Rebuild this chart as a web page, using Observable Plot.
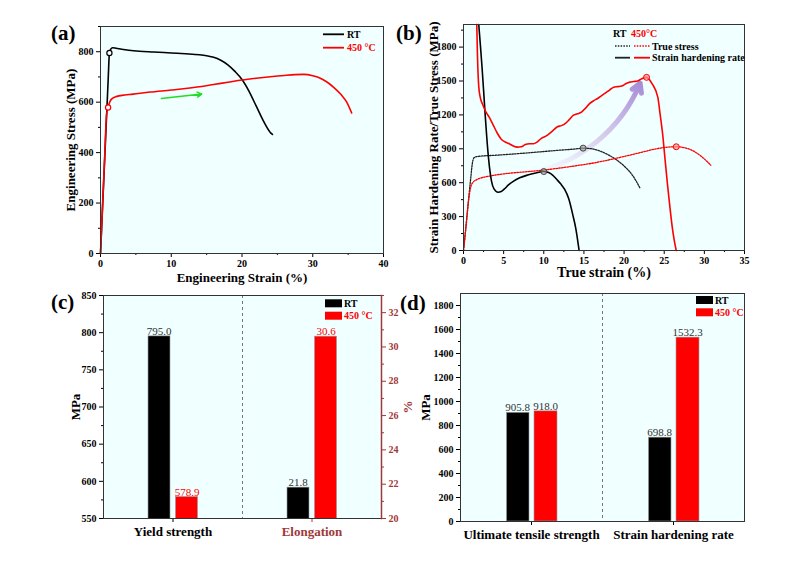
<!DOCTYPE html>
<html><head><meta charset="utf-8">
<script src="https://cdn.jsdelivr.net/npm/d3@7"></script>
<script src="https://cdn.jsdelivr.net/npm/@observablehq/plot@0.6"></script>
<style>
body{margin:0;background:#fff;}
#root{position:relative;width:800px;height:572px;overflow:hidden;background:#fff;font-family:"Liberation Serif","Times New Roman",serif;}
.panel{position:absolute;}
#overlay{position:absolute;left:0;top:0;pointer-events:none;}
</style></head><body><div id="root"></div>
<script>
// ---------- DATA ----------
// (a) engineering stress-strain
const aStrainRT = [0,0.3,0.6,0.9,1.1,1.26,1.45,1.7,2.2,3.0,4.0,5.5,7.5,10,12,14,15,16,17,18,19,20,21,22,23,24,24.3];
const aStressRT = [0,190,380,570,700,795,810,816,814,810,806,802,799,795,792,788,784,778,766,748,722,690,643,585,527,480,472];
const aStrainHT = [0,0.3,0.6,0.85,1.07,1.3,1.6,2.0,3.0,4.6,7,10,12,14,16,18,20,22,24,26,27.5,28.7,30,31,32,33,34,34.8,35.5];
const aStressHT = [0,195,390,550,578.9,600,613,620,627,632,640,648,654,661,670,679,688,695,701,706,709,710,705,696,680,658,630,600,557];
const aYieldStrain = [1.26, 1.07];
const aYieldStress = [795.0, 578.9];
const aXTicks = [0,10,20,30,40], aXMinor = [5,15,25,35];
const aYTicks = [0,200,400,600,800], aYMinor = [100,300,500,700,900];
const aArrow = [{x1: 8.6, y1: 615, x2: 14.3, y2: 632}];

// (b) true stress & strain hardening rate
const bStrainTS_RT = [0,0.3,0.6,0.9,1.1,1.3,1.6,2,4,6,8,10,12,14,14.9,16,17,18,19,20,21,21.5,22];
const bTS_RT = [0,210,430,640,770,820,830,834,843,853,864,876,888,899,905.8,900,880,848,805,748,670,615,550];
const bStrainTS_HT = [0,0.3,0.6,0.9,1.2,1.6,2,3,4,5,6,8,10,12,14,16,18,20,22,24,25,26.5,27.5,28.5,29.5,30.3,30.8];
const bTS_HT = [0,200,420,560,605,625,638,655,668,678,686,698,712,730,750,772,800,832,866,900,912,918,910,885,840,790,755];
const bStrainSH_RT = [1.9,2.1,2.3,2.5,2.7,2.9,3.1,3.3,3.5,3.8,4.3,4.7,5.1,5.6,6.2,7.0,8.0,9.0,10.0,10.6,11.1,11.6,12.1,12.6,13.1,13.6,14.0,14.4];
const bSH_RT = [2000,1820,1630,1420,1200,1000,830,700,610,545,516,522,545,580,612,643,668,686,699,690,668,630,590,540,460,320,190,0];
const bStrainSH_HT = [1.65,1.75,1.9,2.1,2.4,2.8,3.2,3.7,4.2,4.7,5.2,5.7,6.2,6.7,7.2,7.7,8.2,8.7,9.2,9.7,10.2,10.7,11.2,11.7,12.2,12.7,13.2,13.7,14.2,14.7,15.2,15.7,16.2,16.7,17.2,17.7,18.2,18.7,19.2,19.7,20.2,20.7,21.2,21.7,22.2,22.8,23.5,24.2,24.5,24.8,25.1,25.4,25.7,26.0,26.3,26.5];
const bSH_HT = [2000,1700,1450,1350,1290,1225,1180,1110,1040,985,960,945,925,915,918,938,945,945,962,993,1010,1035,1065,1095,1105,1125,1160,1198,1210,1225,1260,1300,1325,1345,1370,1395,1420,1445,1450,1455,1475,1490,1495,1500,1520,1532.3,1475,1357,1200,1033,810,590,390,207,70,0];
const bMarkRT = [{x: 10.0, y: 698.8}, {x: 14.9, y: 905.8}];
const bMarkHT = [{x: 22.8, y: 1532.3}, {x: 26.5, y: 918.0}];
const bXTicks = [0,5,10,15,20,25,30,35], bXMinor = [2.5,7.5,12.5,17.5,22.5,27.5,32.5];
const bYTicks = [0,300,600,900,1200,1500,1800], bYMinor = [150,450,750,1050,1350,1650,1950];
const bArrow = [{x1: 8.5, y1: 690, x2: 22.0, y2: 1480}];

// (c) yield strength / elongation
const cCats = ["Yield strength", "Elongation"];
const cRT = [795.0, 21.8];
const cHT = [578.9, 30.6];
const cYTicks = [550,600,650,700,750,800,850], cYMinor = [575,625,675,725,775,825];
const cRTicks = [20,22,24,26,28,30,32], cRMinor = [21,23,25,27,29,31,33];

// (d) UTS / strain hardening rate
const dCats = ["Ultimate tensile strength", "Strain hardening rate"];
const dRT = [905.8, 698.8];
const dHT = [918.0, 1532.3];
const dYTicks = [0,200,400,600,800,1000,1200,1400,1600,1800], dYMinor = [100,300,500,700,900,1100,1300,1500,1700];

// ---------- HELPERS ----------
const FONT = "'Liberation Serif', 'Times New Roman', serif";
const BG = "#f0ffff";
const DARKRED = "#a03838";
const ST = {fontFamily: FONT, fontSize: "10px", fontWeight: "bold", background: "transparent", overflow: "visible", color: "black"};
const root = document.getElementById("root");
function mount(el, left, top, w, h) {
  const d = document.createElement("div");
  d.className = "panel";
  Object.assign(d.style, {left: left + "px", top: top + "px", width: w + "px", height: h + "px"});
  d.appendChild(el); root.appendChild(d);
}
const zipXY = (xs, ys) => xs.map((x, i) => ({x, y: ys[i]}));
const blank = () => "";
const plain = d => String(d);
function yAxes(major, minor, extra = {}, fmt = plain) {
  return [
    Plot.axisY(major, {tickSize: 4, tickPadding: 3, label: null, tickFormat: fmt, ...extra}),
    Plot.axisY(minor, {tickSize: 2, label: null, ...extra, tickFormat: blank})
  ];
}
function xAxes(major, minor) {
  return [
    Plot.axisX(major, {tickSize: 4, tickPadding: 2, label: null, tickFormat: plain}),
    Plot.axisX(minor, {tickSize: 2, tickFormat: blank, label: null})
  ];
}
const labelStyle = {fontSize: 13, fontWeight: "bold", fontFamily: FONT, fill: "black", textAnchor: "middle", lineAnchor: "middle"};

// ---------- (a) ----------
const aRT = zipXY(aStrainRT, aStressRT);
const aHT = zipXY(aStrainHT, aStressHT);
const aYield = aYieldStrain.map((x, i) => ({x, y: aYieldStress[i], c: i === 0 ? "black" : "red"}));
const plotA = Plot.plot({
  width: 400, height: 286, marginLeft: 100, marginRight: 17, marginTop: 26, marginBottom: 33,
  style: ST,
  x: {domain: [0, 40], label: null}, y: {domain: [0, 900], label: null},
  marks: [
    Plot.frame({fill: BG}),
    ...xAxes(aXTicks, aXMinor),
    ...yAxes(aYTicks, aYMinor),
    Plot.line(aRT, {x: "x", y: "y", stroke: "black", strokeWidth: 1.6, curve: "monotone-x"}),
    Plot.line(aHT, {x: "x", y: "y", stroke: "red", strokeWidth: 1.6, curve: "monotone-x"}),
    Plot.dot(aYield, {x: "x", y: "y", r: 2.6, stroke: d => d.c, fill: "white", strokeWidth: 1.2}),
    Plot.arrow(aArrow, {x1: "x1", y1: "y1", x2: "x2", y2: "y2", stroke: "#22dd22", strokeWidth: 1.5, headLength: 5}),
    Plot.text(["Engineering Stress (MPa)"], {text: d => d, frameAnchor: "left", dx: -30, rotate: -90, ...labelStyle}),
    Plot.text(["Engineering Strain (%)"], {text: d => d, frameAnchor: "bottom", dy: 24, ...labelStyle}),
    Plot.frame({stroke: "#333", strokeWidth: 1})
  ]
});
mount(plotA, 0, 0, 400, 286);

// ---------- (b) ----------
const gradMark = () => {
  const defs = d3.create("svg:defs");
  const g = defs.append("linearGradient").attr("id", "lavgrad")
    .attr("x1", 0).attr("y1", 1).attr("x2", 1).attr("y2", 0);
  g.append("stop").attr("offset", "0%").attr("stop-color", "#f4f0fb").attr("stop-opacity", 0.3);
  g.append("stop").attr("offset", "40%").attr("stop-color", "#ddd2f0").attr("stop-opacity", 0.8);
  g.append("stop").attr("offset", "100%").attr("stop-color", "#a68cd6").attr("stop-opacity", 1);
  return defs.node();
};
const plotB = Plot.plot({
  width: 400, height: 286, marginLeft: 63, marginRight: 56, marginTop: 24, marginBottom: 36,
  style: ST,
  x: {domain: [0, 35], label: null}, y: {domain: [0, 2000], label: null},
  marks: [
    gradMark,
    Plot.frame({fill: BG}),
    ...xAxes(bXTicks, bXMinor),
    ...yAxes(bYTicks, bYMinor),
    Plot.arrow(bArrow, {x1: "x1", y1: "y1", x2: "x2", y2: "y2", bend: -28, stroke: "url(#lavgrad)", strokeWidth: 5, headLength: 3, headAngle: 60}),
    Plot.line(zipXY(bStrainTS_RT, bTS_RT), {x: "x", y: "y", stroke: "#222", strokeWidth: 1.3, strokeDasharray: "1.5,1.3", curve: "monotone-x"}),
    Plot.line(zipXY(bStrainTS_HT, bTS_HT), {x: "x", y: "y", stroke: "red", strokeWidth: 1.3, strokeDasharray: "1.5,1.3", curve: "monotone-x"}),
    Plot.line(zipXY(bStrainSH_RT, bSH_RT), {x: "x", y: "y", stroke: "black", strokeWidth: 1.6, curve: "monotone-x"}),
    Plot.line(zipXY(bStrainSH_HT, bSH_HT), {x: "x", y: "y", stroke: "red", strokeWidth: 1.6, curve: "monotone-x"}),
    Plot.dot(bMarkRT, {x: "x", y: "y", r: 3, stroke: "#444", fill: "#999", fillOpacity: 0.6, strokeWidth: 1}),
    Plot.dot(bMarkHT, {x: "x", y: "y", r: 3, stroke: "red", fill: "#ff9999", fillOpacity: 0.7, strokeWidth: 1}),
    Plot.text(["Strain Hardening Rate/True Stress (MPa)"], {text: d => d, frameAnchor: "left", dx: -30, rotate: -90, ...labelStyle}),
    Plot.text(["True strain (%)"], {text: d => d, frameAnchor: "bottom", dy: 22, ...labelStyle, fontSize: 14}),
    Plot.frame({stroke: "#333", strokeWidth: 1})
  ]
});
mount(plotB, 400, 0, 400, 286);

// ---------- (c) ----------
const toLeft = v => 550 + (v - 20) * 300 / 13;
const fromLeft = v => 20 + (v - 550) * 13 / 300;
const cRTData = cCats.map((cat, i) => ({cat, v: i === 1 ? toLeft(cRT[i]) : cRT[i], label: cRT[i].toFixed(1)}));
const cHTData = cCats.map((cat, i) => ({cat, v: i === 1 ? toLeft(cHT[i]) : cHT[i], label: cHT[i].toFixed(1)}));
const cW = 400, cML = 103, cMR = 19;
const cBW = (cW - cML - cMR) / 2;
const plotC = Plot.plot({
  width: cW, height: 286, marginLeft: cML, marginRight: cMR, marginTop: 9, marginBottom: 54,
  style: ST,
  x: {type: "band", domain: cCats, padding: 0, label: null},
  y: {domain: [550, 850], label: null},
  marks: [
    Plot.frame({fill: BG}),
    Plot.ruleX([cCats[1]], {dx: -cBW / 2, stroke: "#777", strokeDasharray: "3,3", strokeWidth: 1}),
    Plot.barY(cRTData, {x: "cat", y: "v", fill: "black", stroke: "#999", strokeWidth: 0.6, insetLeft: 45, insetRight: 72, clip: true}),
    Plot.barY(cHTData, {x: "cat", y: "v", fill: "red", stroke: "#999", strokeWidth: 0.6, insetLeft: 72.5, insetRight: 44.5, clip: true}),
    Plot.text(cRTData, {x: "cat", y: "v", text: "label", dx: -14, dy: -1.5, lineAnchor: "bottom", fill: "#333", fontWeight: "normal", fontSize: 11}),
    Plot.text(cHTData, {x: "cat", y: "v", text: "label", dx: 14, dy: -1.5, lineAnchor: "bottom", fill: "red", fontWeight: "normal", fontSize: 11}),
    ...yAxes(cYTicks, cYMinor),
    ...yAxes(cRTicks.map(toLeft), cRMinor.map(toLeft), {anchor: "right", color: DARKRED}, d => String(Math.round(fromLeft(d)))),
    Plot.axisX([cCats[0]], {tickSize: 4, tickPadding: 4, fontSize: 13, label: null}),
    Plot.axisX([cCats[1]], {tickSize: 4, tickPadding: 4, fontSize: 13, label: null, color: DARKRED}),
    Plot.text(["MPa"], {text: d => d, frameAnchor: "left", dx: -28, rotate: -90, ...labelStyle}),
    Plot.text(["%"], {text: d => d, frameAnchor: "right", dx: 26, rotate: -90, ...labelStyle, fill: DARKRED}),
    Plot.frame({stroke: "#333", strokeWidth: 1}),
    Plot.frame({anchor: "right", stroke: DARKRED, strokeWidth: 1.5})
  ]
});
mount(plotC, 0, 286, cW, 286);

// ---------- (d) ----------
const dRTData = dCats.map((cat, i) => ({cat, v: dRT[i], label: dRT[i].toFixed(1)}));
const dHTData = dCats.map((cat, i) => ({cat, v: dHT[i], label: dHT[i].toFixed(1)}));
const dW = 400, dML = 60, dMR = 56;
const dBW = (dW - dML - dMR) / 2;
const plotD = Plot.plot({
  width: dW, height: 286, marginLeft: dML, marginRight: dMR, marginTop: 7, marginBottom: 51,
  style: ST,
  x: {type: "band", domain: dCats, padding: 0, label: null},
  y: {domain: [0, 1900], label: null},
  marks: [
    Plot.frame({fill: BG}),
    Plot.ruleX([dCats[1]], {dx: -dBW / 2, stroke: "#777", strokeDasharray: "3,3", strokeWidth: 1}),
    Plot.barY(dRTData, {x: "cat", y: "v", fill: "black", stroke: "#999", strokeWidth: 0.6, insetLeft: 46.5, insetRight: 73}),
    Plot.barY(dHTData, {x: "cat", y: "v", fill: "red", stroke: "#999", strokeWidth: 0.6, insetLeft: 74, insetRight: 45}),
    Plot.text(dRTData, {x: "cat", y: "v", text: "label", dx: -14, dy: -1.5, lineAnchor: "bottom", fill: "#333", fontWeight: "normal", fontSize: 11}),
    Plot.text(dHTData, {x: "cat", y: "v", text: "label", dx: 14, dy: -1.5, lineAnchor: "bottom", fill: "#333", fontWeight: "normal", fontSize: 11}),
    ...yAxes(dYTicks, dYMinor),
    Plot.axisX(dCats, {tickSize: 4, tickPadding: 4, fontSize: 13, label: null}),
    Plot.text(["MPa"], {text: d => d, frameAnchor: "left", dx: -35, rotate: -90, ...labelStyle}),
    Plot.frame({stroke: "#333", strokeWidth: 1})
  ]
});
mount(plotD, 400, 286, dW, 286);

// ---------- overlay: panel letters & legends ----------
const ov = document.createElementNS("http://www.w3.org/2000/svg", "svg");
ov.setAttribute("id", "overlay"); ov.setAttribute("width", 800); ov.setAttribute("height", 572);
ov.setAttribute("font-family", FONT); ov.setAttribute("font-weight", "bold");
ov.innerHTML = `
  <g font-size="21">
    <text x="51" y="40">(a)</text>
    <text x="396" y="40">(b)</text>
    <text x="51" y="309">(c)</text>
    <text x="400" y="310">(d)</text>
  </g>
  <g font-size="10">
    <line x1="323" x2="344" y1="34.3" y2="34.3" stroke="black" stroke-width="1.8"/>
    <text x="347" y="37.8">RT</text>
    <line x1="323" x2="344" y1="47.7" y2="47.7" stroke="red" stroke-width="1.8"/>
    <text x="347" y="51.2" fill="red">450 °C</text>

    <text x="613" y="36.8">RT</text>
    <text x="631" y="36.8" fill="red">450°C</text>
    <line x1="615" x2="630" y1="46" y2="46" stroke="#222" stroke-width="1.3" stroke-dasharray="1.5,1.3"/>
    <line x1="634" x2="650" y1="46" y2="46" stroke="red" stroke-width="1.3" stroke-dasharray="1.5,1.3"/>
    <text x="652" y="49.5">True stress</text>
    <line x1="615" x2="630" y1="57.7" y2="57.7" stroke="#222" stroke-width="1.8"/>
    <line x1="634" x2="650" y1="57.7" y2="57.7" stroke="red" stroke-width="1.8"/>
    <text x="652" y="61.2">Strain hardening rate</text>

    <rect x="325" y="299.3" width="17" height="8" fill="black"/>
    <text x="344" y="306.8">RT</text>
    <rect x="325" y="311.7" width="17" height="8" fill="red"/>
    <text x="344" y="319.2" fill="red">450 °C</text>

    <rect x="696" y="296" width="17" height="8" fill="black"/>
    <text x="715" y="303.5">RT</text>
    <rect x="696" y="308.3" width="17" height="8" fill="red"/>
    <text x="715" y="315.8" fill="red">450 °C</text>
  </g>`;
root.appendChild(ov);
</script>
</body></html>
